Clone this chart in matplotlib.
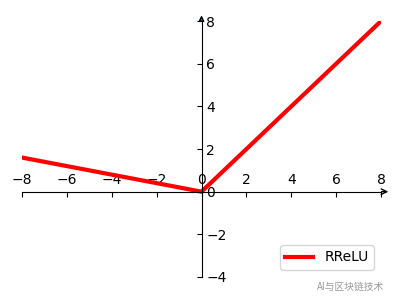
import matplotlib
matplotlib.use('Agg')
import matplotlib.pyplot as plt

# RReLU: 음수 구간 기울기 0.2
x_vals = [-8, 0, 8]
y_vals = [1.6, 0, 8]
x_ticks = [-8, -6, -4, -2, 0, 2, 4, 6, 8]
y_ticks = [-4, -2, 0, 2, 4, 6, 8]

fig = plt.figure(figsize=(4, 3), dpi=100)
ax = fig.add_axes([0.055, 0.0767, 0.8975, 0.853])

ax.plot(x_vals, y_vals, color='red', linewidth=3, label='RReLU')

ax.set_xlim(-8, 8)
ax.set_ylim(-4, 8)
ax.set_xticks(x_ticks)
ax.set_yticks(y_ticks)

# 축을 원점으로 이동
ax.spines['left'].set_position(('data', 0))
ax.spines['bottom'].set_position(('data', 0))
ax.spines['right'].set_position(('data', 0))
ax.spines['top'].set_position(('data', 0))
ax.spines['right'].set_visible(False)
ax.spines['top'].set_visible(False)

# 눈금은 아래/왼쪽, 라벨은 위/오른쪽
ax.tick_params(axis='x', bottom=True, top=False, labelbottom=False, labeltop=True, pad=0)
ax.tick_params(axis='y', left=True, right=False, labelleft=False, labelright=True, pad=0)

# 화살표
ax.annotate('', xy=(8.45, 0), xytext=(7.9, 0),
            arrowprops=dict(arrowstyle='->', color='black', lw=1),
            annotation_clip=False)
ax.annotate('', xy=(0, 8.4), xytext=(0, 7.9),
            arrowprops=dict(arrowstyle='-|>', fc='C0', ec='black', lw=1, mutation_scale=8),
            annotation_clip=False)

ax.legend(loc='lower right')

fig.text(0.96, 0.045, 'AI与区块链技术', ha='right', va='center', fontsize=7,
         color='#999999', family=['Noto Sans CJK SC', 'DejaVu Sans'])

plt.savefig('out.png', dpi=100)
